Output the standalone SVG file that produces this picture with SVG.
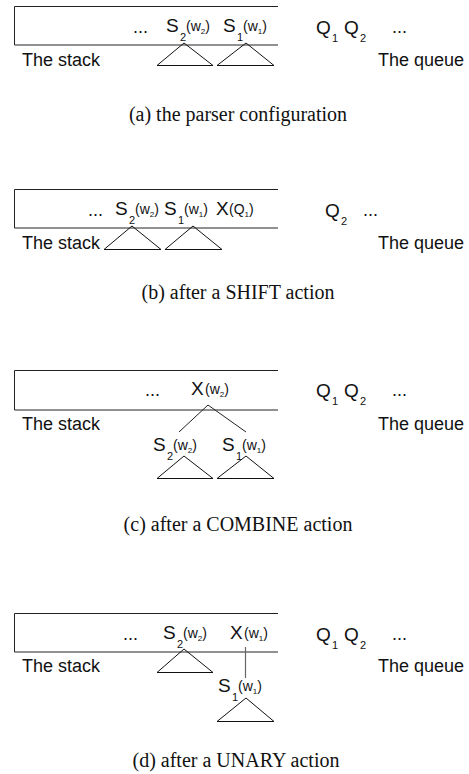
<svg xmlns="http://www.w3.org/2000/svg" width="469" height="774" viewBox="0 0 469 774">
<style>
text{font-family:"Liberation Sans",Arial,sans-serif;fill:#111}
.big{font-size:18px}
.let{font-size:19px}
.sub{font-size:11px}
.mid{font-size:14px}
.tiny{font-size:8px}
.cap{font-family:"Liberation Serif","Times New Roman",serif;font-size:20px;text-anchor:middle}
.box{fill:none;stroke:#222;stroke-width:1}
.tri{fill:none;stroke:#111;stroke-width:1}
.edge{fill:none;stroke:#222;stroke-width:1}
.edge2{fill:none;stroke:#666;stroke-width:1.2}
</style>
<rect width="469" height="774" fill="#fff"/>

<!-- Panel (a) -->
<g id="panel-a">
  <g id="a-stack"><path class="box" d="M278,6.5 H14.5 V45 H278"/><text class="big" x="22" y="66">The stack</text></g>
  <g id="a-dots"><text class="big" x="133" y="33">...</text></g>
  <g id="a-s2"><text class="let" x="166" y="32">S</text><text class="sub" x="180" y="41">2</text><text class="mid" x="186" y="31">(w<tspan class="tiny" dy="3">2</tspan><tspan dy="-3">)</tspan></text>
    <path class="tri" d="M184,43 L157,65.5 H213 Z"/></g>
  <g id="a-s1"><text class="let" x="223" y="32">S</text><text class="sub" x="237" y="41">1</text><text class="mid" x="243" y="31">(w<tspan class="tiny" dy="3">1</tspan><tspan dy="-3">)</tspan></text>
    <path class="tri" d="M246,43 L217,65.5 H274 Z"/></g>
  <g id="a-queue"><text class="let" x="316" y="34">Q</text><text class="sub" x="332" y="42">1</text><text class="let" x="344" y="34">Q</text><text class="sub" x="360" y="42">2</text><text class="big" x="392" y="33">...</text><text class="big" x="378" y="66">The queue</text></g>
  <text class="cap" x="238" y="121">(a) the parser configuration</text>
</g>

<!-- Panel (b) -->
<g id="panel-b">
  <g id="b-stack"><path class="box" d="M278,189.5 H14.5 V228 H278"/><text class="big" x="22" y="249">The stack</text></g>
  <g id="b-dots"><text class="big" x="88" y="216">...</text></g>
  <g id="b-s2"><text class="let" x="115" y="215">S</text><text class="sub" x="129" y="224">2</text><text class="mid" x="135" y="214">(w<tspan class="tiny" dy="3">2</tspan><tspan dy="-3">)</tspan></text>
    <path class="tri" d="M132,226 L104,249.5 H161 Z"/></g>
  <g id="b-s1"><text class="let" x="164" y="215">S</text><text class="sub" x="178" y="224">1</text><text class="mid" x="184" y="214">(w<tspan class="tiny" dy="3">1</tspan><tspan dy="-3">)</tspan></text>
    <path class="tri" d="M193,226 L165,249.5 H222 Z"/></g>
  <g id="b-x"><text class="let" x="216" y="215">X</text><text class="mid" x="229" y="214">(Q<tspan class="tiny" dy="3">1</tspan><tspan dy="-3">)</tspan></text></g>
  <g id="b-queue"><text class="let" x="325" y="217">Q</text><text class="sub" x="341" y="225">2</text><text class="big" x="363" y="216">...</text><text class="big" x="378" y="249">The queue</text></g>
  <text class="cap" x="238" y="299">(b) after a SHIFT action</text>
</g>

<!-- Panel (c) -->
<g id="panel-c">
  <g id="c-stack"><path class="box" d="M278,370.5 H14.5 V410 H278"/><text class="big" x="22" y="430">The stack</text></g>
  <g id="c-dots"><text class="big" x="145" y="396">...</text></g>
  <g id="c-x"><text class="let" x="191" y="395">X</text><text class="mid" x="205" y="394">(w<tspan class="tiny" dy="3">2</tspan><tspan dy="-3">)</tspan></text></g>
  <g id="c-s2"><text class="let" x="153" y="451">S</text><text class="sub" x="167" y="460">2</text><text class="mid" x="173" y="450">(w<tspan class="tiny" dy="3">2</tspan><tspan dy="-3">)</tspan></text>
    <path class="tri" d="M184,456 L157,478.5 H213 Z"/></g>
  <g id="c-s1"><text class="let" x="222" y="451">S</text><text class="sub" x="236" y="460">1</text><text class="mid" x="242" y="450">(w<tspan class="tiny" dy="3">1</tspan><tspan dy="-3">)</tspan></text>
    <path class="tri" d="M246,456 L217,478.5 H274 Z"/></g>
  <g id="c-queue"><text class="let" x="316" y="397">Q</text><text class="sub" x="332" y="405">1</text><text class="let" x="344" y="397">Q</text><text class="sub" x="360" y="405">2</text><text class="big" x="392" y="396">...</text><text class="big" x="378" y="430">The queue</text></g>
  <text class="cap" x="238" y="531">(c) after a COMBINE action</text>
</g>

<!-- Panel (d) -->
<g id="panel-d">
  <g id="d-stack"><path class="box" d="M278,613.5 H14.5 V652 H278"/><text class="big" x="22" y="672">The stack</text></g>
  <g id="d-dots"><text class="big" x="123" y="640">...</text></g>
  <g id="d-s2"><text class="let" x="163" y="639">S</text><text class="sub" x="177" y="648">2</text><text class="mid" x="183" y="638">(w<tspan class="tiny" dy="3">2</tspan><tspan dy="-3">)</tspan></text>
    <path class="tri" d="M184,649 L157,672.5 H213 Z"/></g>
  <g id="d-x"><text class="let" x="230" y="639">X</text><text class="mid" x="244" y="638">(w<tspan class="tiny" dy="3">1</tspan><tspan dy="-3">)</tspan></text></g>
  <g id="d-s1"><text class="let" x="218" y="692">S</text><text class="sub" x="232" y="701">1</text><text class="mid" x="238" y="691">(w<tspan class="tiny" dy="3">1</tspan><tspan dy="-3">)</tspan></text>
    <path class="tri" d="M246,698 L217,721.5 H274 Z"/></g>
  <g id="d-queue"><text class="let" x="316" y="641">Q</text><text class="sub" x="332" y="649">1</text><text class="let" x="344" y="641">Q</text><text class="sub" x="360" y="649">2</text><text class="big" x="392" y="640">...</text><text class="big" x="378" y="672">The queue</text></g>
  <text class="cap" x="236" y="767">(d) after a UNARY action</text>
</g>

<!-- Connectors -->
<g id="connectors">
  <path class="edge" d="M208,405 L179,432"/>
  <path class="edge" d="M208,405 L246,432"/>
  <path class="edge2" d="M245.5,647 V678"/>
</g>
</svg>
